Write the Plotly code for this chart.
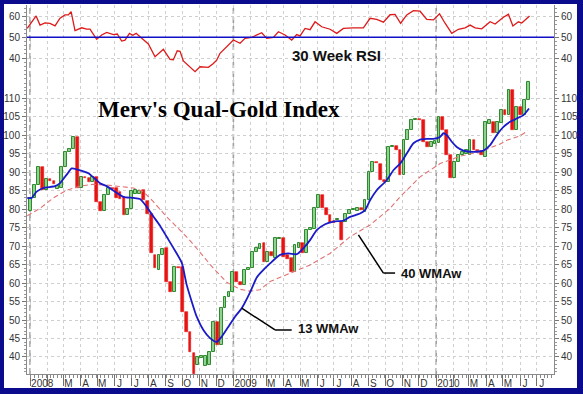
import plotly.graph_objects as go
import pandas as pd

# ---------------- data ----------------
week_start = "2008-01-02"
opens = [79.5, 83.0, 86.5, 91.4, 85.1, 88.0, 87.7, 85.5, 85.7, 91.4,
         95.5, 96.2, 99.5, 85.7, 88.7, 88.5, 87.4, 88.6, 82.0, 79.5,
         83.8, 85.7, 85.7, 84.7, 83.3, 78.4, 80.0, 84.2, 84.0, 85.2,
         82.3, 78.8, 67.6, 63.5, 67.6, 69.4, 60.4, 57.7, 64.4, 64.4,
         52.3, 46.8, 41.0, 37.8, 39.6, 37.6, 37.8, 41.4, 49.5, 43.2,
         53.2, 56.3, 57.7, 63.1, 60.4, 59.5, 63.6, 64.0, 68.5, 69.3,
         70.7, 65.8, 68.5, 66.7, 71.8, 72.1, 67.6, 66.7, 63.1, 69.6,
         70.7, 68.0, 74.3, 74.5, 80.2, 83.8, 80.2, 78.4, 76.8, 77.0,
         76.6, 76.6, 78.8, 79.7, 79.5, 80.2, 79.3, 82.4, 90.1, 92.8,
         92.3, 87.8, 87.4, 96.8, 97.0, 96.0, 89.2, 98.6, 101.4, 104.1,
         104.3, 104.1, 98.2, 96.8, 97.5, 97.8, 105.0, 101.4, 94.6, 88.3,
         92.8, 94.6, 95.0, 94.6, 98.6, 96.0, 95.6, 94.1, 103.0, 103.6,
         100.5, 103.2, 106.8, 105.4, 112.2, 101.4, 107.7, 105.4, 109.5]
closes = [83.0, 86.5, 91.4, 85.1, 88.0, 87.5, 86.8, 86.3, 91.4, 95.5,
          96.2, 99.5, 85.7, 88.7, 88.4, 87.4, 88.6, 82.0, 79.5, 83.8,
          85.7, 85.4, 83.0, 82.8, 78.4, 80.0, 85.0, 85.2, 85.0, 82.5,
          78.8, 68.1, 64.1, 67.6, 69.2, 60.4, 57.7, 64.4, 64.1, 52.3,
          46.8, 41.4, 35.3, 40.1, 40.2, 40.2, 41.4, 49.5, 43.2, 53.2,
          56.3, 57.7, 63.1, 60.4, 59.6, 63.5, 64.0, 68.5, 69.4, 70.6,
          65.8, 68.5, 67.2, 72.1, 72.1, 67.0, 66.6, 63.1, 70.3, 70.7,
          68.0, 74.3, 74.8, 80.2, 83.8, 80.2, 78.4, 76.1, 76.2, 77.3,
          71.6, 78.8, 79.7, 79.9, 80.2, 79.8, 82.4, 90.1, 92.8, 92.5,
          87.8, 87.2, 96.8, 97.0, 96.0, 89.2, 98.6, 101.4, 104.1, 104.3,
          104.0, 98.2, 96.8, 98.2, 98.5, 105.0, 101.4, 94.6, 88.3, 92.8,
          94.6, 95.3, 96.0, 98.6, 96.0, 95.7, 94.6, 103.6, 104.0, 100.5,
          103.5, 106.8, 105.4, 112.2, 101.4, 107.7, 105.4, 109.5, 114.4]

wma13_dates = ["2007-12-27", "2008-01-04", "2008-01-13", "2008-01-25", "2008-02-15", "2008-02-24",
               "2008-03-07", "2008-03-16", "2008-03-28", "2008-04-15", "2008-04-27", "2008-05-06",
               "2008-05-18", "2008-06-02", "2008-06-17", "2008-07-05", "2008-07-17", "2008-07-29",
               "2008-08-10", "2008-08-22", "2008-09-03", "2008-09-15", "2008-09-30", "2008-10-09",
               "2008-10-18", "2008-10-27", "2008-11-08", "2008-11-20", "2008-12-02", "2008-12-11",
               "2008-12-23", "2009-01-04", "2009-01-16", "2009-01-31", "2009-02-12", "2009-02-18",
               "2009-03-08", "2009-03-26", "2009-04-10", "2009-04-25", "2009-05-07", "2009-05-19",
               "2009-05-31", "2009-06-15", "2009-06-30", "2009-07-18", "2009-07-30", "2009-08-17",
               "2009-08-26", "2009-09-04", "2009-09-16", "2009-10-04", "2009-10-16", "2009-10-28",
               "2009-11-09", "2009-11-21", "2009-12-03", "2009-12-15", "2009-12-27", "2010-01-08",
               "2010-01-14", "2010-01-20", "2010-01-29", "2010-02-07", "2010-02-19", "2010-03-03",
               "2010-03-15", "2010-03-27", "2010-04-08", "2010-04-20", "2010-05-02", "2010-05-14",
               "2010-05-26", "2010-06-07", "2010-06-17"]
wma13_vals = [83.0, 83.0, 84.7, 85.7, 86.2, 87.0, 89.3, 91.0, 90.6, 89.7,
              88.2, 87.0, 86.2, 84.7, 83.3, 83.0, 82.7, 80.6, 78.0, 75.5,
              72.5, 69.5, 65.5, 59.5, 55.0, 50.9, 47.3, 45.1, 44.1, 45.5,
              48.2, 50.9, 53.2, 57.5, 61.5, 62.6, 65.3, 67.6, 68.0, 67.8,
              69.4, 71.6, 74.3, 75.9, 76.6, 76.9, 77.9, 78.8, 79.7, 82.4,
              85.1, 87.8, 90.5, 92.3, 95.0, 97.8, 98.8, 99.0, 99.0, 99.5,
              100.5, 100.0, 98.2, 96.8, 95.8, 95.5, 95.5, 95.8, 97.3, 100.0,
              102.2, 103.6, 104.5, 105.4, 107.2]

wma40_dates = ["2007-12-27", "2008-01-19", "2008-02-12", "2008-03-07", "2008-03-31", "2008-04-24",
               "2008-05-18", "2008-06-11", "2008-07-05", "2008-07-23", "2008-08-10", "2008-09-03",
               "2008-09-27", "2008-10-12", "2008-11-02", "2008-11-26", "2008-12-20", "2009-01-13",
               "2009-01-31", "2009-02-18", "2009-03-08", "2009-04-13", "2009-05-19", "2009-06-24",
               "2009-07-30", "2009-09-04", "2009-09-22", "2009-10-10", "2009-10-28", "2009-12-03",
               "2010-01-08", "2010-02-13", "2010-03-21", "2010-04-26", "2010-05-08", "2010-06-01",
               "2010-06-15"]
wma40_vals = [78.2, 80.2, 83.0, 85.1, 86.2, 86.7, 86.5, 86.0, 85.7, 84.7,
              82.0, 77.9, 74.3, 72.0, 68.3, 64.0, 60.2, 58.3, 57.8, 58.2,
              60.4, 62.6, 64.9, 68.0, 72.5, 75.7, 77.9, 80.2, 83.3, 88.7,
              92.3, 94.3, 95.5, 97.6, 98.6, 99.8, 101.2]

rsi_dates = ["2007-12-27", "2008-01-12", "2008-01-19", "2008-01-28", "2008-02-06", "2008-02-15",
             "2008-02-24", "2008-03-04", "2008-03-10", "2008-03-15", "2008-03-22", "2008-04-03",
             "2008-04-12", "2008-04-18", "2008-04-30", "2008-05-09", "2008-05-18", "2008-05-30",
             "2008-06-06", "2008-06-14", "2008-06-20", "2008-06-28", "2008-07-04", "2008-07-10",
             "2008-07-17", "2008-08-01", "2008-08-13", "2008-08-28", "2008-09-09", "2008-09-15",
             "2008-09-22", "2008-09-27", "2008-10-03", "2008-10-15", "2008-10-24", "2008-11-02",
             "2008-11-08", "2008-11-17", "2008-11-26", "2008-12-02", "2008-12-08", "2008-12-20",
             "2009-01-01", "2009-01-13", "2009-01-22", "2009-02-03", "2009-02-21", "2009-03-02",
             "2009-03-14", "2009-03-23", "2009-04-04", "2009-04-16", "2009-04-25", "2009-05-01",
             "2009-05-10", "2009-05-19", "2009-05-28", "2009-06-09", "2009-06-24", "2009-07-06",
             "2009-07-18", "2009-08-05", "2009-08-23", "2009-09-04", "2009-09-16", "2009-09-28",
             "2009-10-10", "2009-10-19", "2009-10-29", "2009-11-09", "2009-11-21", "2009-12-03",
             "2009-12-15", "2009-12-27", "2010-01-07", "2010-01-17", "2010-01-29", "2010-02-10",
             "2010-02-22", "2010-03-03", "2010-03-12", "2010-03-24", "2010-04-08", "2010-04-17",
             "2010-05-02", "2010-05-11", "2010-05-19", "2010-05-29", "2010-06-04", "2010-06-18"]
rsi_vals = [54.3, 60.3, 55.9, 57.0, 56.7, 55.5, 59.2, 60.8, 60.8, 62.4,
            53.2, 54.6, 54.0, 54.0, 49.0, 51.1, 52.4, 51.3, 51.6, 48.2,
            48.6, 51.9, 51.0, 51.9, 50.3, 46.8, 40.6, 44.2, 39.4, 39.2,
            43.5, 43.2, 38.6, 35.5, 33.4, 35.8, 35.8, 35.5, 37.4, 39.0,
            42.3, 45.5, 48.7, 47.1, 49.5, 50.0, 52.2, 49.5, 50.0, 52.7,
            51.1, 48.7, 51.3, 50.7, 54.3, 53.7, 57.5, 55.1, 53.9, 51.9,
            54.3, 54.6, 54.6, 59.2, 58.7, 57.3, 60.9, 61.1, 56.8, 60.8,
            62.9, 62.6, 58.7, 58.4, 61.3, 56.8, 51.9, 53.9, 54.6, 55.9,
            54.6, 54.1, 57.5, 56.4, 59.7, 61.1, 55.5, 57.5, 56.9, 60.3]

month_labels = ["2008", "", "M", "A", "M", "J", "J", "A", "S", "O", "N", "D",
                "2009", "", "M", "A", "M", "J", "J", "A", "S", "O", "N", "D",
                "2010", "", "M", "A", "M", "J", "J"]
year_starts = ["2008-01-01", "2009-01-01", "2010-01-01"]
main_ticks = [40, 45, 50, 55, 60, 65, 70, 75, 80, 85, 90, 95, 100, 105, 110]
rsi_ticks = [40, 50, 60]
rsi_midline = 50

# ---------------- derived helpers ----------------
weeks = pd.date_range(week_start, periods=len(opens), freq="7D")
month_starts = pd.date_range("2008-01-01", periods=len(month_labels), freq="MS")
label_pos, label_txt = [], []
for m, lab in zip(month_starts, month_labels):
    if lab:
        label_pos.append(m + pd.Timedelta(days=22 if len(lab) == 4 else 9))
        label_txt.append(lab)

up_x = [d for d, o, c in zip(weeks, opens, closes) if c >= o]
up_b = [o for o, c in zip(opens, closes) if c >= o]
up_h = [c - o for o, c in zip(opens, closes) if c >= o]
dn_x = [d for d, o, c in zip(weeks, opens, closes) if c < o]
dn_b = [c for o, c in zip(opens, closes) if c < o]
dn_h = [o - c for o, c in zip(opens, closes) if c < o]

x_range = ["2007-12-26 14:24", "2010-08-01"]
main_range = [35.4, 114.9]
rsi_range = [29.4, 65.6]
split = 0.79675
day_ms = 86400000

GRID = "#cfcfcf"
AXC = "#8a8a8a"
FONT = "Liberation Sans, Arial, sans-serif"

fig = go.Figure()

fig.add_trace(go.Bar(x=up_x, base=up_b, y=up_h, width=5.0 * day_ms,
                     marker=dict(color="#8fd18f", line=dict(color="#2f8a2f", width=1)),
                     xaxis="x", yaxis="y", hoverinfo="skip"))
fig.add_trace(go.Bar(x=dn_x, base=dn_b, y=dn_h, width=5.0 * day_ms,
                     marker=dict(color="#e81414", line=dict(color="#e81414", width=0.6)),
                     xaxis="x", yaxis="y", hoverinfo="skip"))

fig.add_trace(go.Scatter(x=wma40_dates, y=wma40_vals, mode="lines",
                         line=dict(color="#e07272", width=1.1, dash="5px,3px"),
                         xaxis="x", yaxis="y", hoverinfo="skip"))
fig.add_trace(go.Scatter(x=wma13_dates, y=wma13_vals, mode="lines",
                         line=dict(color="#1a1ac8", width=1.8, shape="spline", smoothing=0.6),
                         xaxis="x", yaxis="y", hoverinfo="skip"))

fig.add_trace(go.Scatter(x=rsi_dates, y=rsi_vals, mode="lines",
                         line=dict(color="#dd1a1a", width=1.3),
                         xaxis="x2", yaxis="y2", hoverinfo="skip"))

# helper invisible traces so the overlay axes get drawn
fig.add_trace(go.Scatter(x=[weeks[0]], y=[opens[0]], mode="markers", marker=dict(opacity=0),
                         xaxis="x3", yaxis="y", hoverinfo="skip"))
fig.add_trace(go.Scatter(x=[weeks[0]], y=[opens[0]], mode="markers", marker=dict(opacity=0),
                         xaxis="x", yaxis="y3", hoverinfo="skip"))
fig.add_trace(go.Scatter(x=[weeks[0]], y=[rsi_vals[0]], mode="markers", marker=dict(opacity=0),
                         xaxis="x2", yaxis="y4", hoverinfo="skip"))

ytick_common = dict(ticks="outside", ticklen=4, tickcolor="#777", tickwidth=1,
                    tickfont=dict(size=10, color="#333", family=FONT), zeroline=False,
                    automargin=False, fixedrange=True)

fig.update_layout(
    width=583, height=394,
    margin=dict(l=27, r=29, t=5, b=20, pad=0),
    paper_bgcolor="#0b0b8e", plot_bgcolor="white",
    showlegend=False, barmode="overlay", bargap=0,
    font=dict(family=FONT, size=10, color="#333"),
    xaxis=dict(type="date", range=x_range, domain=[0, 1], anchor="y",
               tickmode="array", tickvals=label_pos, ticktext=label_txt, ticks="",
               tickangle=0, tickfont=dict(size=10, color="#333", family=FONT),
               showgrid=False, showline=True, linecolor=AXC, linewidth=1, zeroline=False,
               automargin=False,
               minor=dict(tickmode="array", tickvals=list(month_starts), ticks="outside",
                          ticklen=11, tickcolor="#707070", tickwidth=1,
                          showgrid=True, gridcolor=GRID, griddash="dot", gridwidth=1)),
    xaxis2=dict(type="date", range=x_range, domain=[0, 1], anchor="y2", matches="x",
                showticklabels=False, ticks="", showgrid=False, showline=False, zeroline=False,
                minor=dict(tickmode="array", tickvals=list(month_starts), ticks="",
                           showgrid=True, gridcolor=GRID, griddash="dot", gridwidth=1)),
    xaxis3=dict(type="date", range=x_range, overlaying="x", anchor="y", side="bottom",
                tickmode="linear", tick0=week_start, dtick=7 * day_ms, ticks="outside",
                ticklen=3, tickcolor="#888", showticklabels=False, showgrid=False,
                showline=False, zeroline=False),
    yaxis=dict(domain=[0, split], range=main_range, anchor="x", tickmode="array",
               tickvals=main_ticks, showgrid=True, gridcolor=GRID, griddash="dot",
               showline=True, linecolor=AXC, linewidth=1, mirror=True,
               minor=dict(tickmode="linear", tick0=0, dtick=1, ticks="outside", ticklen=2,
                          tickcolor="#999"),
               **ytick_common),
    yaxis3=dict(range=main_range, overlaying="y", side="right", anchor="x", tickmode="array",
                tickvals=main_ticks, showgrid=False, showline=False,
                minor=dict(tickmode="linear", tick0=0, dtick=1, ticks="outside", ticklen=2,
                           tickcolor="#999"),
                **ytick_common),
    yaxis2=dict(domain=[split, 1], range=rsi_range, anchor="x2", tickmode="array",
                tickvals=rsi_ticks, showgrid=True, gridcolor=GRID, griddash="dot",
                showline=True, linecolor=AXC, linewidth=1, mirror=True,
                minor=dict(tickmode="linear", tick0=0, dtick=2, ticks="outside", ticklen=2,
                           tickcolor="#999"),
                **ytick_common),
    yaxis4=dict(range=rsi_range, overlaying="y2", side="right", anchor="x2", tickmode="array",
                tickvals=rsi_ticks, showgrid=False, showline=False,
                minor=dict(tickmode="linear", tick0=0, dtick=2, ticks="outside", ticklen=2,
                           tickcolor="#999"),
                **ytick_common),
)

shapes = [
    # white card inside the blue frame
    dict(type="rect", xref="paper", yref="paper", x0=-0.04364, x1=1.04364,
         y0=-0.03794, y1=1.00271, fillcolor="white", line=dict(width=0), layer="below"),
    # RSI 50 line
    dict(type="line", xref="paper", yref="y2", x0=0, x1=1, y0=rsi_midline, y1=rsi_midline,
         line=dict(color="#1010c8", width=1.6), layer="above"),
    # leader lines
    dict(type="line", xref="x", yref="y", x0="2009-01-16", y0=53.2, x1="2009-03-17", y1=47.3,
         line=dict(color="black", width=1.5)),
    dict(type="line", xref="x", yref="y", x0="2009-03-17", y0=47.3, x1="2009-04-16", y1=47.3,
         line=dict(color="black", width=1.5)),
    dict(type="line", xref="x", yref="y", x0="2009-08-14", y0=73.0, x1="2009-09-28", y1=62.7,
         line=dict(color="black", width=1.5)),
    dict(type="line", xref="x", yref="y", x0="2009-09-28", y0=62.7, x1="2009-10-19", y1=62.7,
         line=dict(color="black", width=1.5)),
]
for ys in year_starts:
    shapes.append(dict(type="line", xref="x", yref="paper", x0=ys, x1=ys, y0=0, y1=1,
                       line=dict(color="#a0a0a0", width=1.6, dash="6px,3px"), layer="below"))
fig.update_layout(shapes=shapes)

fig.add_annotation(x="2008-12-06", y=106.8, xref="x", yref="y", showarrow=False,
                   text="<b>Merv's Qual-Gold Index</b>",
                   font=dict(family="Liberation Serif, Times New Roman, serif", size=23, color="black"))
fig.add_annotation(x="2009-07-06", y=41.45, xref="x2", yref="y2", showarrow=False,
                   text="<b>30 Week RSI</b>", font=dict(family=FONT, size=15, color="#111"))
fig.add_annotation(x="2009-04-24", y=47.8, xref="x", yref="y", showarrow=False, xanchor="left",
                   text="<b>13 WMAw</b>", font=dict(family=FONT, size=13, color="#111"))
fig.add_annotation(x="2009-10-26", y=62.7, xref="x", yref="y", showarrow=False, xanchor="left",
                   text="<b>40 WMAw</b>", font=dict(family=FONT, size=13, color="#111"))

fig.write_html("out.html", config={"displayModeBar": False},
               post_script="document.body.style.margin='0';document.body.style.padding='0';")
